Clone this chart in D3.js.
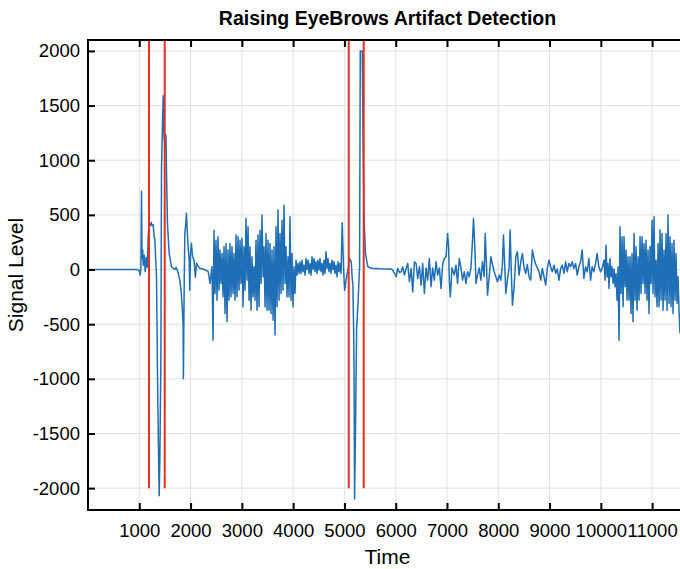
<!DOCTYPE html>
<html>
<head>
<meta charset="utf-8">
<script src="https://cdn.jsdelivr.net/npm/d3@7"></script>
<style>
    body { margin: 0; background: #fff; }
    svg { display: block; }
    text { font-family: "Liberation Sans", Arial, Helvetica, sans-serif; fill: #000; }
</style>
</head>
<body>
<div class="chart"></div>
<script>

// chart text
let chartTitle = "Raising EyeBrows Artifact Detection";
let xLabel = "Time";
let yLabel = "Signal Level";

// tick values
let xTickValues = [1000, 2000, 3000, 4000, 5000, 6000, 7000, 8000, 9000, 10000, 11000];
let yTickValues = [-2000, -1500, -1000, -500, 0, 500, 1000, 1500, 2000];

// detected artifact boundaries (red markers)
let detectionTimes = [1190, 1496, 5084, 5376];
let markerRange = [-2000, 2100];

// signal trace: [time, level]
let eegTrace = [
    [0,0],[960,0],[999,-10],[1019,-50],[1032,20],[1044,717],[1054,100],[1067,180],[1077,40],[1096,130],
    [1116,-20],[1135,110],[1155,20],[1174,300],[1194,425],[1213,400],[1233,430],[1252,400],[1271,410],[1291,300],
    [1304,270],[1320,100],[1336,-67],[1355,-950],[1373,-1600],[1388,-2070],[1402,-1700],[1421,-830],[1433,910],[1446,1200],
    [1466,1590],[1476,1300],[1485,1215],[1505,1100],[1520,1230],[1530,910],[1549,425],[1582,150],[1627,25],[1693,0],
    [1718,20],[1757,-30],[1790,-97],[1816,-200],[1841,-370],[1855,-520],[1860,-1000],[1874,-215],[1888,330],[1903,400],
    [1919,515],[1932,380],[1952,210],[1971,100],[1985,-190],[2000,150],[2016,240],[2039,120],[2068,85],[2094,-70],
    [2117,60],[2146,30],[2185,10],[2249,5],[2315,-10],[2346,-21],[2379,-127],[2400,-40],
    // dense burst
    [2418,25],[2438,-646],[2457,360],[2477,-219],[2496,269],[2516,-280],[2535,300],[2555,-189],[2574,178],[2594,-128],
    [2613,147],[2633,-250],[2652,208],[2672,-402],[2691,239],[2711,-478],[2730,178],[2750,-280],[2769,239],[2789,-250],
    [2808,208],[2828,-219],[2847,147],[2867,-280],[2886,315],[2906,-250],[2925,300],[2945,-189],[2964,269],[2984,-128],
    [3003,284],[3023,-341],[3042,208],[3062,-189],[3081,467],[3101,-97],[3120,391],[3140,-280],[3159,208],[3179,-372],
    [3198,116],[3218,-250],[3237,25],[3257,-280],[3276,269],[3296,-372],[3315,315],[3335,-341],[3354,360],[3374,-128],
    [3393,498],[3413,-67],[3432,208],[3452,-341],[3471,330],[3491,-372],[3510,269],[3530,-372],[3549,239],[3569,-402],
    [3588,178],[3608,-463],[3627,208],[3647,-600],[3666,391],[3686,-341],[3705,544],[3725,-280],[3744,330],[3764,-219],
    [3783,452],[3803,-189],[3822,589],[3842,-128],[3861,208],[3881,-250],[3900,116],[3920,-250],[3939,483],[3959,-280],
    [3978,147],[3998,-341],[4017,25],[4037,-219],[4056,86],[4076,-51],[4095,56],[4115,-36],[4134,71],[4154,-36],
    // quieter band
    [4173,86],[4193,-20],[4212,40],[4232,-51],[4251,100],[4271,0],[4290,86],[4310,-36],[4329,56],[4349,-51],
    [4368,116],[4388,0],[4407,100],[4427,-20],[4446,71],[4466,-36],[4485,86],[4505,-5],[4524,100],[4544,-20],
    [4563,56],[4583,-51],[4602,86],[4622,-36],[4641,162],[4661,10],[4680,100],[4700,-20],[4719,56],[4739,-36],
    [4758,86],[4778,0],[4797,71],[4817,-36],[4836,40],[4856,-67],[4875,71],[4895,-20],[4914,56],[4934,-36],
    [4957,427],[4984,0],[5004,-190],
    [5037,-80],[5068,-5],[5101,100],[5134,71],[5154,-100],[5165,-127],[5179,-525],[5188,-950],[5198,-2100],[5218,-1400],
    [5237,-555],[5266,-300],[5296,25],[5309,2000],[5348,2000],[5364,1185],[5379,600],[5389,390],[5410,150],[5457,25],
    [5529,12],[5684,8],[5879,5],[5912,4],[5943,-5],[5976,-36],[6009,-66],[6040,10],[6073,-27],[6106,-21],
    [6137,25],[6170,-51],[6203,10],[6234,55],[6267,-112],[6301,10],[6332,-204],[6365,71],[6398,55],[6429,-81],
    [6462,25],[6495,-143],[6526,55],[6559,-219],[6592,15],[6623,-97],[6656,101],[6689,-158],[6720,15],[6753,-97],
    [6787,71],[6818,-51],[6851,15],[6884,-173],[6915,46],[6948,101],[6981,117],[7012,330],[7032,208],[7045,-97],
    [7065,-250],[7098,15],[7142,-51],[7175,40],[7206,-128],[7239,101],[7272,15],[7304,-97],[7337,-20],[7370,-128],
    [7401,-20],[7434,-66],[7467,15],[7498,269],[7517,467],[7545,178],[7565,-128],[7595,-51],[7628,15],[7661,-97],
    [7692,71],[7725,-66],[7745,330],[7770,46],[7790,-234],[7823,-66],[7856,117],[7887,46],[7920,-20],[7953,-66],
    [7984,-112],[8017,-51],[8050,-97],[8081,46],[8101,315],[8128,15],[8147,-219],[8178,-97],[8211,15],[8231,361],
    [8256,-51],[8276,-326],[8309,-158],[8342,117],[8373,162],[8406,-51],[8439,71],[8470,147],[8503,15],[8536,-36],
    [8567,46],[8600,-66],[8633,-97],[8664,178],[8697,101],[8731,46],[8762,15],[8795,-20],[8828,-97],[8859,10],
    [8892,-66],[8925,-143],[8956,10],[8989,86],[9022,25],[9053,-20],[9086,40],[9119,-36],[9150,5],[9184,-97],
    [9217,10],[9248,40],[9281,-36],[9314,71],[9345,-20],[9378,56],[9411,25],[9442,71],[9475,10],[9508,56],
    [9539,-51],[9572,25],[9605,71],[9636,178],[9669,-81],[9702,25],[9734,-20],[9767,101],[9800,-97],[9831,25],
    [9864,-20],[9897,56],[9928,147],[9961,25],[9994,-20],[10025,10],
    // final burst
    [10062,86],[10082,-97],[10101,223],[10121,-67],[10140,56],[10160,-173],[10179,101],[10199,-67],[10218,25],[10238,-128],
    [10257,5],[10277,-158],[10296,-36],[10316,-280],[10335,25],[10355,-646],[10374,391],[10394,-219],[10413,300],[10433,-341],
    [10452,300],[10472,-158],[10491,178],[10511,-280],[10530,116],[10550,-280],[10569,116],[10589,-402],[10608,147],[10628,-478],
    [10647,330],[10667,-280],[10686,208],[10706,-372],[10725,116],[10745,-280],[10764,300],[10784,-219],[10803,300],[10823,-128],
    [10842,239],[10862,-219],[10881,269],[10901,-280],[10920,178],[10940,-402],[10959,208],[10979,-128],[10998,452],[11018,-219],
    [11037,483],[11057,-250],[11076,86],[11096,-341],[11115,239],[11135,-341],[11154,361],[11174,-280],[11193,330],[11213,-372],
    [11232,178],[11252,-280],[11271,330],[11291,-372],[11310,498],[11330,-311],[11349,300],[11369,-341],[11388,239],[11408,-402],
    [11427,269],[11447,-280],[11466,147],[11486,-311],[11505,-67],[11525,-372],[11544,-585]
];

let width = 680, height = 569;
// axes box (right edge sits just past the window, like the original figure)
let box = {left: 88, top: 40, right: 687, bottom: 510};

let svg = d3.select('.chart').append('svg').attr('width', width).attr('height', height);

let x = d3.scaleLinear().domain([0, 11680]).range([box.left, box.right]);
let y = d3.scaleLinear().domain([-2200, 2100]).range([box.bottom, box.top]);

svg.append('clipPath').attr('id', 'plotClip')
    .append('rect')
    .attr('x', box.left).attr('y', box.top)
    .attr('width', box.right - box.left).attr('height', box.bottom - box.top);

// grid
let grid = svg.append('g').attr('class', 'grid');
grid.selectAll('.vgrid').data(xTickValues).enter().append('line')
    .attr('x1', d => x(d)).attr('x2', d => x(d))
    .attr('y1', box.top).attr('y2', box.bottom)
    .style('stroke', '#e2e2e2').style('stroke-width', 1);
grid.selectAll('.hgrid').data(yTickValues).enter().append('line')
    .attr('x1', box.left).attr('x2', box.right)
    .attr('y1', d => y(d)).attr('y2', d => y(d))
    .style('stroke', '#e2e2e2').style('stroke-width', 1);

// signal
let line = d3.line().x(d => x(d[0])).y(d => y(d[1]));
svg.append('path').datum(eegTrace)
    .attr('clip-path', 'url(#plotClip)')
    .attr('d', line)
    .style('fill', 'none')
    .style('stroke', '#1f6fb6')
    .style('stroke-width', 1.5)
    .style('stroke-linejoin', 'round');

// detection markers
svg.append('g').attr('clip-path', 'url(#plotClip)')
    .selectAll('line').data(detectionTimes).enter().append('line')
    .attr('x1', d => x(d)).attr('x2', d => x(d))
    .attr('y1', y(markerRange[0])).attr('y2', y(markerRange[1]))
    .style('stroke', '#e3301f').style('stroke-width', 2);

// axes, ticks pointing inward, plain hyphen minus like the original
let tickLen = 7;
let plain = d => String(d);
let styleAxis = function(g){
    g.select('.domain').remove();
    g.selectAll('.tick line').style('stroke', '#000').style('stroke-width', 2);
    g.selectAll('.tick text').style('font-size', '18.5px')
        .style('font-family', '"Liberation Sans", Arial, sans-serif');
};

svg.append('g').attr('transform', `translate(0,${box.bottom})`)
    .call(d3.axisBottom(x).tickValues(xTickValues).tickFormat(plain)
        .tickSizeInner(-tickLen).tickSizeOuter(0).tickPadding(14))
    .call(styleAxis);
svg.append('g').attr('transform', `translate(0,${box.top})`)
    .call(d3.axisTop(x).tickValues(xTickValues).tickFormat('')
        .tickSizeInner(-tickLen).tickSizeOuter(0))
    .call(styleAxis);
svg.append('g').attr('transform', `translate(${box.left},0)`)
    .call(d3.axisLeft(y).tickValues(yTickValues).tickFormat(plain)
        .tickSizeInner(-tickLen).tickSizeOuter(0).tickPadding(8))
    .call(styleAxis);
svg.append('g').attr('transform', `translate(${box.right},0)`)
    .call(d3.axisRight(y).tickValues(yTickValues).tickFormat('')
        .tickSizeInner(-tickLen).tickSizeOuter(0))
    .call(styleAxis);

// box
svg.append('rect')
    .attr('x', box.left).attr('y', box.top)
    .attr('width', box.right - box.left).attr('height', box.bottom - box.top)
    .style('fill', 'none').style('stroke', '#000').style('stroke-width', 2);

// labels
let midX = (box.left + box.right) / 2;
svg.append('text').text(chartTitle)
    .attr('x', midX).attr('y', 25)
    .attr('text-anchor', 'middle')
    .style('font-size', '19.5px').style('font-weight', 'bold');
svg.append('text').text(xLabel)
    .attr('x', midX).attr('y', 564)
    .attr('text-anchor', 'middle')
    .style('font-size', '21px');
svg.append('text').text(yLabel)
    .attr('transform', `translate(23,${(box.top + box.bottom) / 2}) rotate(-90)`)
    .attr('text-anchor', 'middle')
    .style('font-size', '21px');

</script>
</body>
</html>
